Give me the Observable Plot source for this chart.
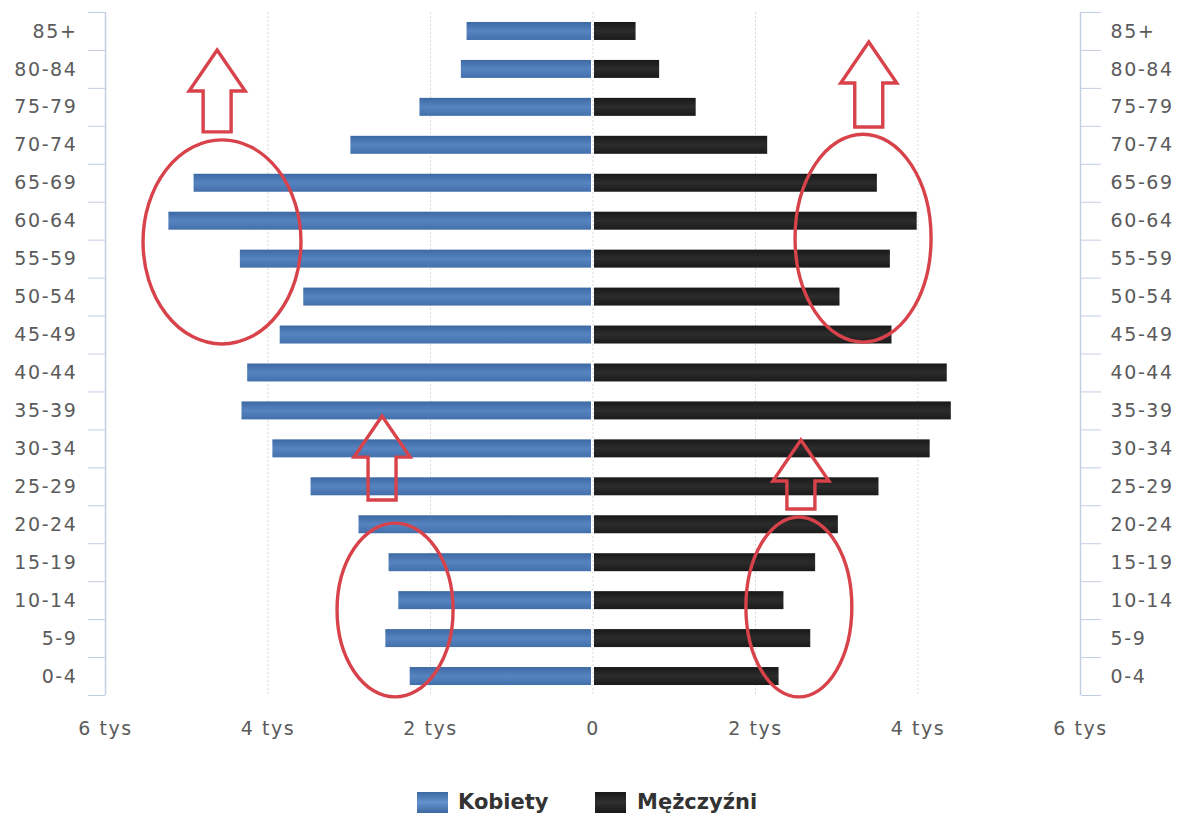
<!DOCTYPE html>
<html><head><meta charset="utf-8">
<script src="https://cdn.jsdelivr.net/npm/d3@7"></script>
<script src="https://cdn.jsdelivr.net/npm/@observablehq/plot@0.6"></script>
<style>
html,body{margin:0;padding:0;background:#fff;}
body{width:1190px;height:816px;overflow:hidden;font-family:"DejaVu Sans",sans-serif;}
#chart svg text{letter-spacing:1.6px;}
.legend{position:relative;height:56px;}
.legend .sw{position:absolute;top:32px;width:31px;height:21px;}
.legend .lab{position:absolute;top:29px;font-weight:bold;font-size:21px;color:#333;line-height:26px;}
</style></head>
<body>
<div id="chart"></div>
<div class="legend">
  <div class="sw" style="left:417px;background:linear-gradient(#3d69a3,#6592cc 50%,#3d69a3);"></div>
  <div class="lab" style="left:458px;">Kobiety</div>
  <div class="sw" style="left:595px;background:linear-gradient(#181818,#303030 50%,#181818);"></div>
  <div class="lab" style="left:637px;">Mężczyźni</div>
</div>
<script>
// Age groups, bottom to top
const ages = ["0-4","5-9","10-14","15-19","20-24","25-29","30-34","35-39","40-44","45-49","50-54","55-59","60-64","65-69","70-74","75-79","80-84","85+"];
// Population (persons)
const kobiety = [2250,2550,2390,2510,2880,3470,3940,4320,4250,3850,3560,4340,5220,4910,2980,2130,1620,1550];
const mezczyzni = [2290,2680,2350,2740,3020,3520,4150,4410,4360,3680,3040,3660,3990,3500,2150,1270,820,530];
// Axis ticks
const xTicks = [-6000,-4000,-2000,0,2000,4000,6000];
const xGrid = [-4000,-2000,0,2000,4000];
const xEdges = [-6000,6000];
// Annotations (data coordinates: x in persons, row = age-group index)
const ellipses = [
  {x:-4560, row:11.44, rx:972, ry:2.69},
  {x:3330, row:11.54, rx:837, ry:2.74},
  {x:-2430, row:1.74, rx:714, ry:2.29},
  {x:2540, row:1.82, rx:652, ry:2.37}
];
const arrows = [
  {x:-4620, tip:16.50, base:14.34},
  {x:3400, tip:16.71, base:14.47},
  {x:-2590, tip:6.85, base:4.64},
  {x:2565, tip:6.22, base:4.40}
];

const rows = ages.map((age,i)=>({age, i, k:kobiety[i], m:mezczyzni[i]}));
const half = 0.237;
const rowIdx = ages.map((_,i)=>i);
const bounds = ages.map((_,i)=>i-0.5).concat([ages.length-0.5]);
const fmt = d => d === 0 ? "0" : `${Math.abs(d)/1000} tys`;
const red = "#d8434b";

function annotate(index, scales) {
  const {x, y} = scales;
  const g = d3.create("svg:g").attr("fill","none").attr("stroke",red).attr("stroke-width",3.4);
  for (const e of ellipses) {
    const cx = x(e.x), cy = y(e.row);
    g.append("ellipse").attr("cx",cx).attr("cy",cy)
      .attr("rx",Math.abs(x(e.x+e.rx)-cx)).attr("ry",Math.abs(y(e.row+e.ry)-cy));
  }
  for (const a of arrows) {
    const ax = x(a.x), t = y(a.tip), b = y(a.base);
    const hw = 28, sw = 14, hl = 41;
    const p = [[ax,t],[ax+hw,t+hl],[ax+sw,t+hl],[ax+sw,b],[ax-sw,b],[ax-sw,t+hl],[ax-hw,t+hl]];
    g.append("path").attr("d","M"+p.map(q=>q.join(",")).join("L")+"Z").attr("stroke-linejoin","miter");
  }
  return g.node();
}

const chart = Plot.plot({
  width:1190, height:760,
  marginTop:12, marginBottom:65, marginLeft:105, marginRight:110,
  style:{fontFamily:"DejaVu Sans, sans-serif", fontSize:"19px", color:"#5b5b5b", background:"transparent", overflow:"visible"},
  x:{domain:[-6000,6000]},
  y:{domain:[-0.5, ages.length-0.5]},
  marks:[
    Plot.ruleX(xGrid, {stroke:"#d9d9d9", strokeDasharray:"2,2"}),
    Plot.ruleX(xEdges, {stroke:"#c4cee2", strokeWidth:1.5}),
    Plot.axisY(bounds, {anchor:"left", tickSize:17, tickFormat:()=>"", stroke:"#c4cee2", label:null}),
    Plot.axisY(bounds, {anchor:"right", tickSize:20, tickFormat:()=>"", stroke:"#c4cee2", label:null}),
    Plot.axisY(rowIdx, {anchor:"left", tickSize:0, tickPadding:28, tickFormat:i=>ages[i], label:null, fill:"#5b5b5b"}),
    Plot.axisY(rowIdx, {anchor:"right", tickSize:0, tickPadding:30, tickFormat:i=>ages[i], label:null, fill:"#5b5b5b"}),
    Plot.axisX(xTicks, {anchor:"bottom", tickSize:0, tickPadding:26, tickFormat:fmt, label:null, fill:"#5b5b5b"}),
    Plot.rectX(rows, {x1:d=>0, x2:d=>-d.k, y1:d=>d.i-half, y2:d=>d.i+half, fill:"url(#gradK)", insetRight:1.5}),
    Plot.rectX(rows, {x1:d=>0, x2:d=>d.m, y1:d=>d.i-half, y2:d=>d.i+half, fill:"url(#gradM)", insetLeft:1.5}),
    annotate
  ]
});

const defs = d3.select(chart).insert("defs", ":first-child");
const gk = defs.append("linearGradient").attr("id","gradK").attr("x1",0).attr("y1",0).attr("x2",0).attr("y2",1);
gk.append("stop").attr("offset","0%").attr("stop-color","#3d69a3");
gk.append("stop").attr("offset","50%").attr("stop-color","#5684c0");
gk.append("stop").attr("offset","100%").attr("stop-color","#4370ab");
const gm = defs.append("linearGradient").attr("id","gradM").attr("x1",0).attr("y1",0).attr("x2",0).attr("y2",1);
gm.append("stop").attr("offset","0%").attr("stop-color","#181818");
gm.append("stop").attr("offset","50%").attr("stop-color","#2c2c2c");
gm.append("stop").attr("offset","100%").attr("stop-color","#1a1a1a");

document.getElementById("chart").appendChild(chart);
</script>
</body></html>
